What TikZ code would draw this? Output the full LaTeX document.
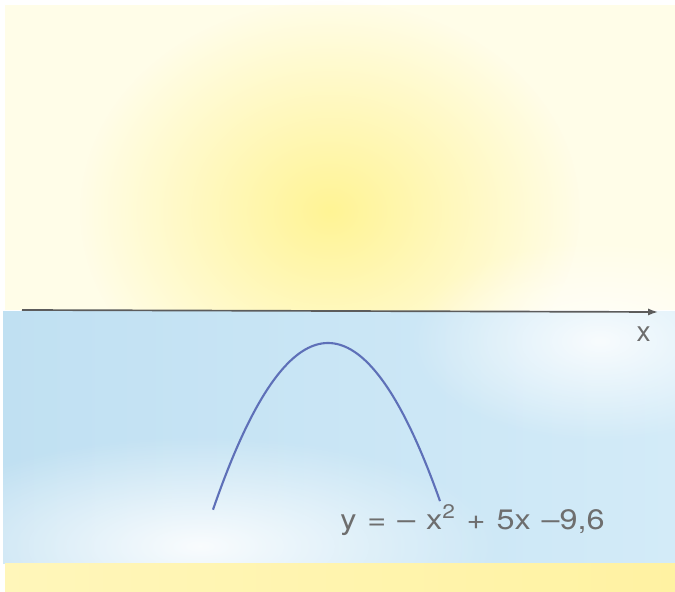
\documentclass[tikz,border=0pt]{standalone}
\usepackage{xcolor}
\usepackage{fontspec}
\setmainfont{TeX Gyre Heros}
\newfontfamily\eqnfont[FakeStretch=1.15]{TeX Gyre Heros}
\usepackage{tikz}
\usetikzlibrary{arrows.meta, positioning, fadings}
\definecolor{skypale}{HTML}{FFFDE8}
\definecolor{sunspot}{HTML}{FFF38C}
\definecolor{waterleft}{HTML}{C0E0F2}
\definecolor{waterright}{HTML}{D3EBF8}
\definecolor{sandleft}{HTML}{FFF6BA}
\definecolor{sandright}{HTML}{FFF2A2}
\definecolor{axisgray}{HTML}{5C5C5C}
\definecolor{curveblue}{HTML}{5E70B8}
\definecolor{labelgray}{HTML}{6E6E6E}
\tikzfading[name=softspot, inner color=transparent!0, outer color=transparent!100]

\begin{document}
\begin{tikzpicture}[x=0.025cm, y=0.025cm,
  axis/.style={-{Latex[length=7pt, width=5pt]}, line width=1.2pt, color=axisgray},
  curve/.style={line width=1.5pt, color=curveblue},
  lbl/.style={font=\fontsize{20}{24}\selectfont\color{labelgray}, inner sep=0pt},
  eqnlbl/.style={font=\eqnfont\fontsize{20}{24}\selectfont\color{labelgray}, inner sep=0pt}
]
  % page and background areas
  \useasboundingbox (0,0) rectangle (675,591);
  \fill[white] (0,0) rectangle (675,591);
  \fill[skypale] (5,281) rectangle (675,586);
  \fill[sunspot, path fading=softspot, opacity=0.9] (330,380) ellipse [x radius=250, y radius=210];
  \shade[left color=waterleft, right color=waterright] (3,28) rectangle (675,279);
  \fill[white, path fading=softspot, opacity=0.9] (200,45) ellipse [x radius=300, y radius=110];
  \fill[white, path fading=softspot, opacity=0.85] (600,250) ellipse [x radius=190, y radius=100];
  \shade[left color=sandleft, right color=sandright] (5,0) rectangle (675,28);

  % x axis
  \coordinate (xstart) at (22,281);
  \coordinate (xend) at (658,279);
  \draw[axis] (xstart) -- (xend);
  \node[lbl, below left=10pt and 5pt of xend] (xlab) {x};

  % parabola
  \draw[curve] plot[domain=213:440, samples=80] (\x, {248 - 0.0126*(\x-328)^2});
  \node[eqnlbl, anchor=base west] (eqn) at (340,62) {\spaceskip=7.8pt y = – x\textsuperscript{2} + 5x –9,6};
\end{tikzpicture}
\end{document}
